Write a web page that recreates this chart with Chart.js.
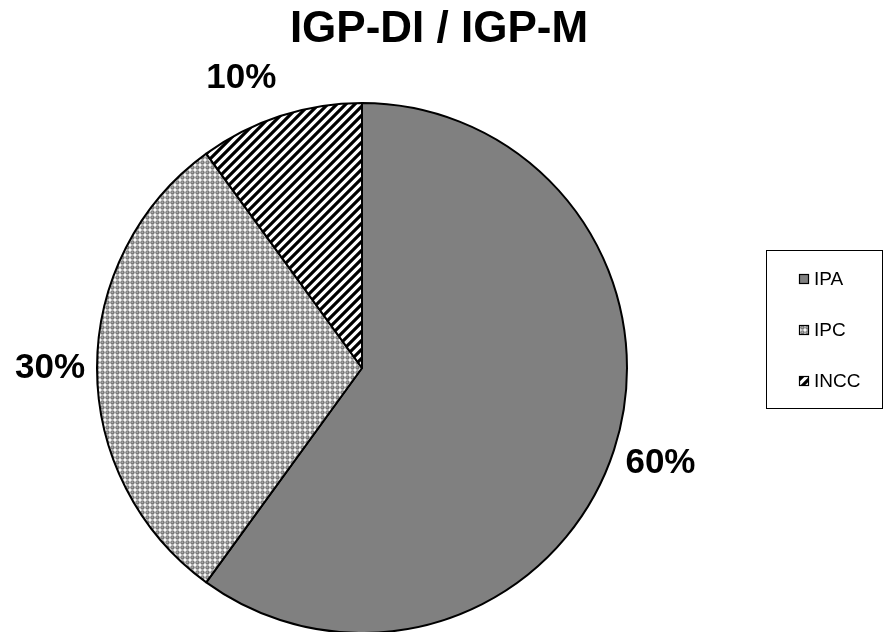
<!DOCTYPE html>
<html>
<head>
<meta charset="utf-8">
<title>IGP-DI / IGP-M</title>
<script src="https://cdn.jsdelivr.net/npm/chart.js@4.4.1/dist/chart.umd.min.js"></script>
<style>
  html, body { margin: 0; padding: 0; background: #fff; }
  #wrap { width: 883px; height: 632px; position: relative; }
</style>
</head>
<body>
<div id="wrap"><canvas id="myChart" width="883" height="632"></canvas></div>
<script>
const chartTitle = "IGP-DI / IGP-M";
const labels = ["IPA", "IPC", "INCC"];
const shares = [60, 30, 10];

// pattern tiles, one per slice
function makeTile(size, draw) {
  const c = document.createElement("canvas");
  c.width = size;
  c.height = size;
  const t = c.getContext("2d");
  draw(t, size);
  return document.createElement("canvas").getContext("2d").createPattern(c, "repeat");
}

const dots = makeTile(5, function (t, s) {
  t.fillStyle = "#fff";
  t.fillRect(0, 0, s, s);
  t.fillStyle = "#7a7a7a";
  t.beginPath();
  t.arc(2.5, 2.5, 2.2, 0, Math.PI * 2);
  t.fill();
  t.fillStyle = "#a8a8a8";
  t.fillRect(1.5, 1.5, 1.5, 1.5);
});

const stripes = makeTile(9, function (t, s) {
  t.fillStyle = "#fff";
  t.fillRect(0, 0, s, s);
  t.strokeStyle = "#000";
  t.lineWidth = 3.2;
  t.beginPath();
  t.moveTo(-2, s + 2); t.lineTo(s + 2, -2);
  t.moveTo(-2, 2); t.lineTo(2, -2);
  t.moveTo(s - 2, s + 2); t.lineTo(s + 2, s - 2);
  t.stroke();
});

const fills = ["#808080", dots, stripes];

const FONT = "'Liberation Sans', Arial, sans-serif";

const decorations = {
  id: "decorations",
  afterDraw(chart) {
    const ctx = chart.ctx;
    ctx.save();

    // title
    ctx.fillStyle = "#000";
    ctx.font = "bold 44px " + FONT;
    ctx.textAlign = "center";
    ctx.textBaseline = "middle";
    ctx.fillText(chartTitle, 439, 30);

    // percent labels outside each slice
    const meta = chart.getDatasetMeta(0);
    const total = shares.reduce((a, b) => a + b, 0);
    ctx.font = "bold 35px " + FONT;
    meta.data.forEach(function (arc, i) {
      const p = arc.getProps(["x", "y", "startAngle", "endAngle", "outerRadius"], true);
      const mid = (p.startAngle + p.endAngle) / 2;
      const dx = Math.cos(mid), dy = Math.sin(mid);
      const ax = p.x + dx * (p.outerRadius + 12);
      const ay = p.y + dy * (p.outerRadius + 12);
      const txt = Math.round(shares[i] / total * 100) + "%";
      const w = ctx.measureText(txt).width;
      const fx = Math.max(-1, Math.min(1, dx * 4));
      const fy = Math.max(-1, Math.min(1, dy * 1.2));
      ctx.fillText(txt, ax + fx * w / 2, ay + fy * 26);
    });

    // legend
    const lx = 766.5, ly = 250.5, lw = 116, lh = 158;
    ctx.strokeStyle = "#000";
    ctx.lineWidth = 1;
    ctx.strokeRect(lx, ly, lw, lh);
    ctx.font = "19px " + FONT;
    ctx.textAlign = "left";
    labels.forEach(function (lab, i) {
      const cy = 279 + i * 51;
      ctx.fillStyle = fills[i];
      ctx.fillRect(799, cy - 5, 10, 10);
      ctx.lineWidth = 1.2;
      ctx.strokeRect(799.5, cy - 4.5, 9, 9);
      ctx.fillStyle = "#000";
      ctx.fillText(lab, 814, cy + 1);
    });

    ctx.restore();
  }
};

const ctx = document.getElementById("myChart");
new Chart(ctx, {
  type: "pie",
  data: {
    labels: labels,
    datasets: [
      {
        data: shares,
        backgroundColor: fills,
        borderColor: "#000",
        borderWidth: 2,
        radius: 265,
      },
    ],
  },
  options: {
    responsive: false,
    animation: false,
    layout: { padding: { left: 0, right: 159, top: 104, bottom: 0 } },
    plugins: {
      legend: { display: false },
      title: { display: false },
      tooltip: { enabled: false },
    },
  },
  plugins: [decorations],
});
</script>
</body>
</html>
